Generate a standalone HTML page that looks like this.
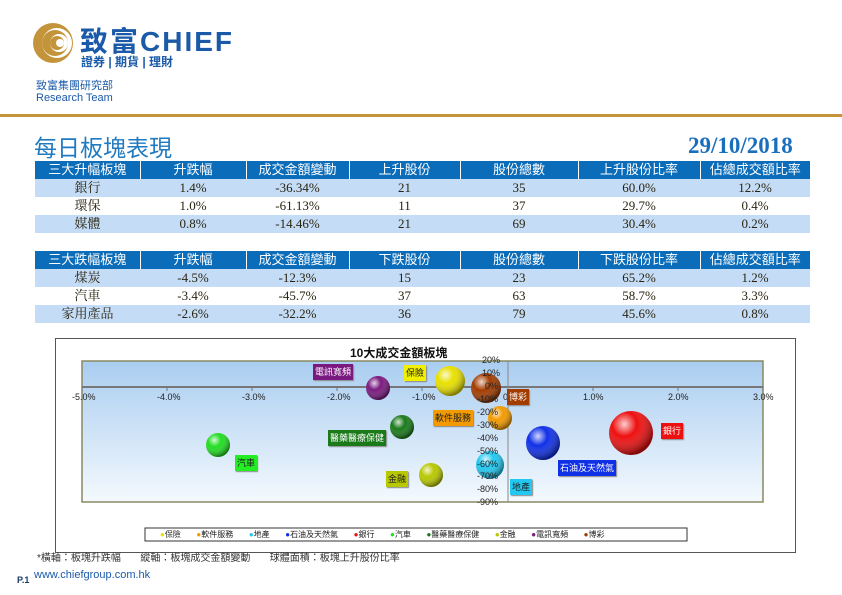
<!DOCTYPE html>
<html><head><meta charset="utf-8"><style>
*{margin:0;padding:0;box-sizing:border-box}
body{width:842px;height:595px;background:#fff;position:relative;overflow:hidden;font-family:"Liberation Sans","Noto Sans CJK TC",sans-serif}
.a{position:absolute;white-space:nowrap}
table{position:absolute;left:35px;width:775px;border-collapse:collapse;table-layout:fixed;font-family:"Liberation Serif","Noto Serif CJK SC",serif;font-size:13px;color:#2a2410}
td{height:18px;text-align:center;line-height:18px;padding:0}
tr.h td{background:#0b6cb9;color:#fff;border-left:1px solid #fff;font-family:"Liberation Sans","Noto Sans CJK TC",sans-serif;font-size:13px}
tr.h td:first-child{border-left:none}
tr.l td{background:#c4dcf6}
tr.w td{background:#fff}
.lb{position:absolute;font-size:9px;color:#fff;padding:0 2px;line-height:16px;height:16px;font-family:"Noto Sans CJK TC",sans-serif;box-shadow:1px 1px 1px #888}
.yl{position:absolute;font-size:9px;color:#222;font-family:"Liberation Sans",sans-serif}
</style></head><body>
<svg class="a" style="left:32px;top:22px" width="44" height="44" viewBox="0 0 44 44">
<circle cx="21" cy="21" r="20" fill="#c4943a"/>
<circle cx="25" cy="21" r="15" fill="#fff"/>
<circle cx="23" cy="21" r="13" fill="#c4943a"/>
<circle cx="27" cy="21" r="9" fill="#fff"/>
<circle cx="25" cy="21" r="7" fill="#c4943a"/>
<circle cx="28" cy="21" r="4" fill="#fff"/>
</svg>
<div class="a" style="left:80px;top:20px;font-size:28px;font-weight:bold;color:#1a5aa8;letter-spacing:2px">致富CHIEF</div>
<div class="a" style="left:81px;top:53px;font-size:12px;color:#1a5aa8;font-weight:bold">證券 | 期貨 | 理財</div>
<div class="a" style="left:36px;top:77px;font-size:11px;color:#1a5aa8">致富集團研究部</div>
<div class="a" style="left:36px;top:92px;font-size:11px;color:#1a5aa8">Research Team</div>
<div class="a" style="left:0;top:114px;width:842px;height:3px;background:#c4943a"></div>
<div class="a" style="left:34px;top:129px;font-size:23px;color:#1f7ac0">每日板塊表現</div>
<div class="a" style="left:688px;top:133px;font-size:23px;font-weight:bold;color:#1a6fbd;font-family:'Liberation Serif',serif">29/10/2018</div>

<table style="top:161px">
<colgroup><col style="width:105px"><col style="width:106px"><col style="width:103px"><col style="width:111px"><col style="width:118px"><col style="width:122px"><col style="width:110px"></colgroup>
<tr class="h"><td>三大升幅板塊</td><td>升跌幅</td><td>成交金額變動</td><td>上升股份</td><td>股份總數</td><td>上升股份比率</td><td>佔總成交額比率</td></tr>
<tr class="l"><td>銀行</td><td>1.4%</td><td>-36.34%</td><td>21</td><td>35</td><td>60.0%</td><td>12.2%</td></tr>
<tr class="w"><td>環保</td><td>1.0%</td><td>-61.13%</td><td>11</td><td>37</td><td>29.7%</td><td>0.4%</td></tr>
<tr class="l"><td>媒體</td><td>0.8%</td><td>-14.46%</td><td>21</td><td>69</td><td>30.4%</td><td>0.2%</td></tr>
</table>
<table style="top:251px">
<colgroup><col style="width:105px"><col style="width:106px"><col style="width:103px"><col style="width:111px"><col style="width:118px"><col style="width:122px"><col style="width:110px"></colgroup>
<tr class="h"><td>三大跌幅板塊</td><td>升跌幅</td><td>成交金額變動</td><td>下跌股份</td><td>股份總數</td><td>下跌股份比率</td><td>佔總成交額比率</td></tr>
<tr class="l"><td>煤炭</td><td>-4.5%</td><td>-12.3%</td><td>15</td><td>23</td><td>65.2%</td><td>1.2%</td></tr>
<tr class="w"><td>汽車</td><td>-3.4%</td><td>-45.7%</td><td>37</td><td>63</td><td>58.7%</td><td>3.3%</td></tr>
<tr class="l"><td>家用產品</td><td>-2.6%</td><td>-32.2%</td><td>36</td><td>79</td><td>45.6%</td><td>0.8%</td></tr>
</table>

<div class="a" style="left:55px;top:338px;width:741px;height:215px;border:1px solid #555"></div>
<div class="a" style="left:350px;top:344px;font-size:12px;font-weight:bold;color:#111">10大成交金額板塊</div>
<svg class="a" style="left:0;top:0" width="842" height="595">
<defs>
<linearGradient id="bg" x1="0" y1="0" x2="0" y2="1"><stop offset="0" stop-color="#a9cdf0"/><stop offset="1" stop-color="#f4f9fe"/></linearGradient>
<radialGradient id="g0" cx="0.35" cy="0.3" r="0.7"><stop offset="0" stop-color="#fff" stop-opacity="0.8"/><stop offset="0.4" stop-color="#fff" stop-opacity="0"/><stop offset="1" stop-color="#000" stop-opacity="0.45"/></radialGradient>
</defs>
<rect x="82" y="361" width="681" height="141" fill="url(#bg)" stroke="#888860" stroke-width="1.5"/>
<line x1="82" y1="387" x2="763" y2="387" stroke="#777" stroke-width="2"/>
<line x1="508" y1="361" x2="508" y2="502" stroke="#888" stroke-width="1"/>
<g stroke="#777">
<line x1="82" y1="387" x2="82" y2="391"/><line x1="167" y1="387" x2="167" y2="391"/><line x1="252" y1="387" x2="252" y2="391"/><line x1="337" y1="387" x2="337" y2="391"/><line x1="422" y1="387" x2="422" y2="391"/><line x1="593" y1="387" x2="593" y2="391"/><line x1="678" y1="387" x2="678" y2="391"/><line x1="763" y1="387" x2="763" y2="391"/>
</g>
<g>
<circle cx="378" cy="388" r="12" fill="#7a1a80"/><circle cx="378" cy="388" r="12" fill="url(#g0)"/>
<circle cx="450" cy="381" r="15" fill="#e8e000"/><circle cx="450" cy="381" r="15" fill="url(#g0)"/>
<circle cx="486" cy="388" r="15" fill="#a33c00"/><circle cx="486" cy="388" r="15" fill="url(#g0)"/>
<circle cx="500" cy="418" r="12" fill="#f29a00"/><circle cx="500" cy="418" r="12" fill="url(#g0)"/>
<circle cx="402" cy="427" r="12" fill="#1a7a1a"/><circle cx="402" cy="427" r="12" fill="url(#g0)"/>
<circle cx="218" cy="445" r="12" fill="#22dd22"/><circle cx="218" cy="445" r="12" fill="url(#g0)"/>
<circle cx="431" cy="475" r="12" fill="#b8c800"/><circle cx="431" cy="475" r="12" fill="url(#g0)"/>
<circle cx="490" cy="465" r="14" fill="#22c8f0"/><circle cx="490" cy="465" r="14" fill="url(#g0)"/>
<circle cx="543" cy="443" r="17" fill="#1030e8"/><circle cx="543" cy="443" r="17" fill="url(#g0)"/>
<circle cx="631" cy="433" r="22" fill="#ee1010"/><circle cx="631" cy="433" r="22" fill="url(#g0)"/>
</g>
<rect x="145" y="528" width="542" height="13" fill="#fff" stroke="#333"/>
</svg>
<div class="yl" style="left:72px;top:392px">-5.0%</div>
<div class="yl" style="left:157px;top:392px">-4.0%</div>
<div class="yl" style="left:242px;top:392px">-3.0%</div>
<div class="yl" style="left:327px;top:392px">-2.0%</div>
<div class="yl" style="left:412px;top:392px">-1.0%</div>
<div class="yl" style="left:503px;top:392px">0.0%</div>
<div class="yl" style="left:583px;top:392px">1.0%</div>
<div class="yl" style="left:668px;top:392px">2.0%</div>
<div class="yl" style="left:753px;top:392px">3.0%</div>
<div class="yl" style="left:482px;top:355px">20%</div>
<div class="yl" style="left:482px;top:368px">10%</div>
<div class="yl" style="left:485px;top:381px">0%</div>
<div class="yl" style="left:477px;top:394px">-10%</div>
<div class="yl" style="left:477px;top:407px">-20%</div>
<div class="yl" style="left:477px;top:420px">-30%</div>
<div class="yl" style="left:477px;top:433px">-40%</div>
<div class="yl" style="left:477px;top:446px">-50%</div>
<div class="yl" style="left:477px;top:459px">-60%</div>
<div class="yl" style="left:477px;top:471px">-70%</div>
<div class="yl" style="left:477px;top:484px">-80%</div>
<div class="yl" style="left:477px;top:497px">-90%</div>
<div class="lb" style="left:313px;top:364px;background:#7a1a80">電訊寬頻</div>
<div class="lb" style="left:404px;top:365px;background:#f0f000;color:#222">保險</div>
<div class="lb" style="left:507px;top:389px;background:#a33c00">博彩</div>
<div class="lb" style="left:433px;top:410px;background:#f29a00;color:#222">軟件服務</div>
<div class="lb" style="left:328px;top:430px;background:#1a7a1a">醫藥醫療保健</div>
<div class="lb" style="left:235px;top:455px;background:#22ee22;color:#222">汽車</div>
<div class="lb" style="left:386px;top:471px;background:#b8c800;color:#222">金融</div>
<div class="lb" style="left:510px;top:479px;background:#22c8f0;color:#222">地產</div>
<div class="lb" style="left:558px;top:460px;background:#1030e8">石油及天然氣</div>
<div class="lb" style="left:661px;top:423px;background:#ee1010">銀行</div>
<div class="a" style="left:160px;top:529px;font-size:8px;color:#222;word-spacing:0">
<span style="color:#e8e000">●</span>保險 &nbsp;&nbsp;&nbsp;&nbsp;&nbsp;&nbsp;<span style="color:#f29a00">●</span>軟件服務 &nbsp;&nbsp;&nbsp;&nbsp;&nbsp;&nbsp;<span style="color:#22c8f0">●</span>地產 &nbsp;&nbsp;&nbsp;&nbsp;&nbsp;&nbsp;<span style="color:#1030e8">●</span>石油及天然氣 &nbsp;&nbsp;&nbsp;&nbsp;&nbsp;&nbsp;<span style="color:#ee1010">●</span>銀行 &nbsp;&nbsp;&nbsp;&nbsp;&nbsp;&nbsp;<span style="color:#22dd22">●</span>汽車 &nbsp;&nbsp;&nbsp;&nbsp;&nbsp;&nbsp;<span style="color:#1a7a1a">●</span>醫藥醫療保健 &nbsp;&nbsp;&nbsp;&nbsp;&nbsp;&nbsp;<span style="color:#b8c800">●</span>金融 &nbsp;&nbsp;&nbsp;&nbsp;&nbsp;&nbsp;<span style="color:#7a1a80">●</span>電訊寬頻 &nbsp;&nbsp;&nbsp;&nbsp;&nbsp;&nbsp;<span style="color:#a33c00">●</span>博彩</div>
<div class="a" style="left:37px;top:549px;font-size:10px;color:#333">*橫軸：板塊升跌幅 &nbsp;&nbsp;&nbsp;&nbsp;&nbsp; 縱軸：板塊成交金額變動 &nbsp;&nbsp;&nbsp;&nbsp;&nbsp; 球體面積：板塊上升股份比率</div>
<div class="a" style="left:17px;top:575px;font-size:9px;font-weight:bold;color:#1a3a6a">P.1</div>
<div class="a" style="left:34px;top:569px;font-size:11px;color:#1a5aa8">www.chiefgroup.com.hk</div>
</body></html>
